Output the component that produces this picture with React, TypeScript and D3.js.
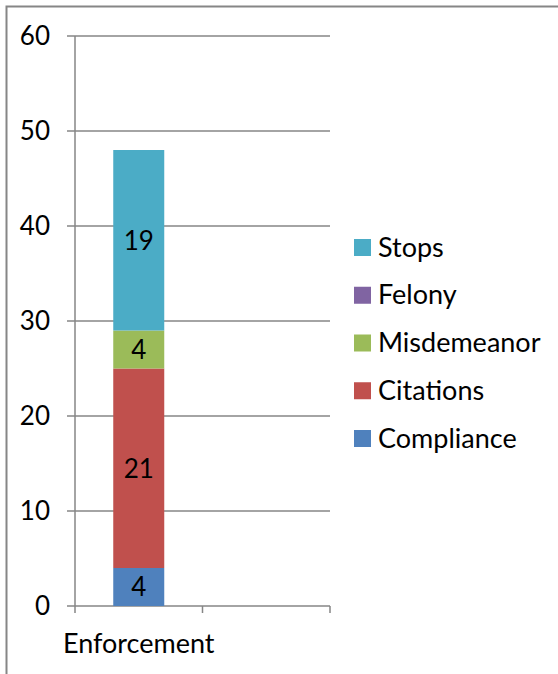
import React from "react";
import * as d3 from "d3";

const categories = ["Enforcement", ""];
const seriesNames = ["Compliance", "Citations", "Misdemeanor", "Felony", "Stops"];
const seriesValues = [4, 21, 4, 0, 19];
const seriesColors = ["#4F81BD", "#C0504D", "#9BBB59", "#8064A2", "#4BACC6"];
const yTicks = [0, 10, 20, 30, 40, 50, 60];

const FONT = "Lato, 'Open Sans', sans-serif";

export default function App() {
  const W = 558, H = 674;
  const x0 = 75, x1 = 330, yTop = 36, yBot = 606;
  const y = d3.scaleLinear().domain([0, 60]).range([yBot, yTop]);
  const x = d3.scaleBand().domain(categories.map((c, i) => String(i))).range([x0, x1]).paddingInner(0).paddingOuter(0);
  const bw = 51;
  const cx = (x("0") as number) + x.bandwidth() / 2;

  const stack = d3.stack<number[]>().keys(seriesNames.map((_, i) => String(i)) as any)
    .value((d: any, k: any) => d[+k]);
  const stacked = stack([seriesValues] as any);

  const legendOrder = [...seriesNames.keys()].reverse();
  const legendY = d3.scaleLinear().domain([0, 4]).range([247, 438]);

  return (
    <svg width={W} height={H} style={{ position: "absolute", left: 0, top: 0, background: "#fff" }} fontFamily={FONT}>
      <rect x={0} y={0} width={W} height={H} fill="#fff" />
      {/* frame */}
      <path d={`M6.5,${H + 2} V6.5 H${W + 2}`} fill="none" stroke="#868686" strokeWidth={2} />
      {/* gridlines */}
      {yTicks.map((t) => (
        <line key={t} x1={67} x2={x1} y1={y(t)} y2={y(t)} stroke="#868686" strokeWidth={1.5} />
      ))}
      {/* y axis */}
      <line x1={x0} x2={x0} y1={yTop} y2={yBot} stroke="#868686" strokeWidth={1.5} />
      {/* x axis ticks */}
      {[...categories.map((_, i) => x(String(i)) as number), x1].map((p, i) => (
        <line key={i} x1={p} x2={p} y1={yBot} y2={yBot + 7} stroke="#868686" strokeWidth={1.5} />
      ))}
      {/* y labels */}
      {yTicks.map((t) => (
        <text key={t} x={50} y={y(t)} dy="0.36em" textAnchor="end" fontSize={26} fill="#000">{t}</text>
      ))}
      {/* bars */}
      {stacked.map((s, i) => {
        const d = s[0];
        const h = y(d[0]) - y(d[1]);
        if (h <= 0) return null;
        return (
          <g key={i}>
            <rect x={cx - bw / 2} y={y(d[1])} width={bw} height={h} fill={seriesColors[i]} />
            <text x={cx} y={(y(d[0]) + y(d[1])) / 2} dy="0.36em" textAnchor="middle" fontSize={26} fill="#000">
              {seriesValues[i]}
            </text>
          </g>
        );
      })}
      {/* category label */}
      <text x={cx} y={653} textAnchor="middle" fontSize={27} fill="#000">{categories[0]}</text>
      {/* legend */}
      {legendOrder.map((si, k) => (
        <g key={si}>
          <rect x={354} y={legendY(k) - 8} width={17} height={17} fill={seriesColors[si]} />
          <text x={378} y={legendY(k)} dy="0.36em" fontSize={27} fill="#000">{seriesNames[si]}</text>
        </g>
      ))}
    </svg>
  );
}
